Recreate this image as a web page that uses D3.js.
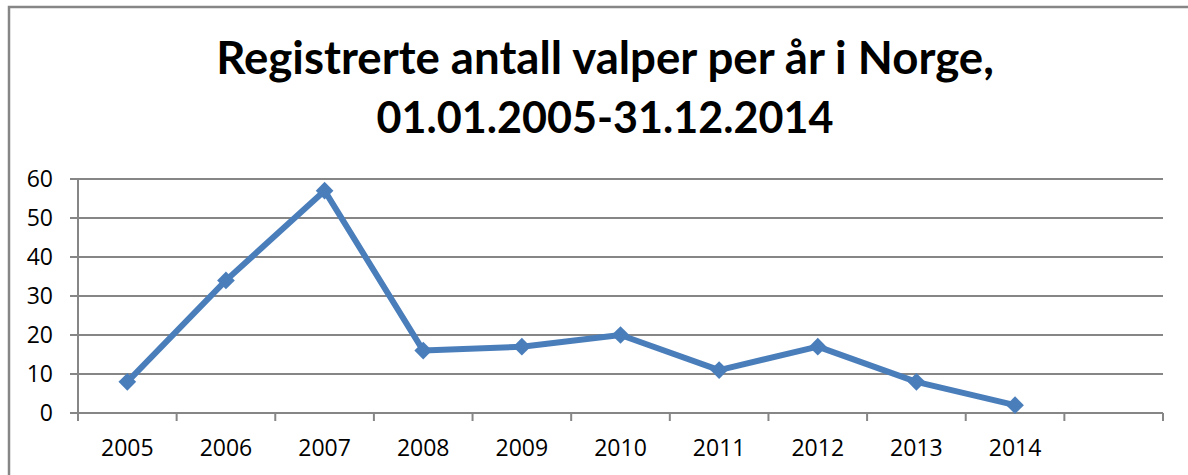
<!DOCTYPE html>
<html>
<head>
<meta charset="utf-8">
<script src="https://cdn.jsdelivr.net/npm/d3@7"></script>
<style>
  body { margin: 0; background: #fff; }
  svg { display: block; }
</style>
</head>
<body>
<div id="chart"></div>
<script>
const years = ['2005', '2006', '2007', '2008', '2009', '2010', '2011', '2012', '2013', '2014'];
const puppies = [8, 34, 57, 16, 17, 20, 11, 17, 8, 2];
const yTicks = [0, 10, 20, 30, 40, 50, 60];
const titleLines = ['Registrerte antall valper per år i Norge,', '01.01.2005-31.12.2014'];

const W = 1188, H = 475;
const margin = {top: 179, right: 25, bottom: 62, left: 78};
const gray = '#868686';
const blue = '#4a7ebb';

const svg = d3.select('#chart').append('svg').attr('width', W).attr('height', H);

// frame of the chart area (partly cropped in the picture)
svg.append('rect').attr('x', 9).attr('y', 7).attr('width', W + 20).attr('height', H + 20)
  .attr('fill', 'none').attr('stroke', gray).attr('stroke-width', 2.5);

// title, scaled to the width measured in the picture
const title = svg.append('g').style('font-family', 'Lato, "Open Sans", sans-serif').style('font-weight', 'bold');
[{y: 74, w: 777}, {y: 133, w: 457}].forEach((cfg, i) => {
  const t = title.append('text').attr('x', 605).attr('y', cfg.y).attr('text-anchor', 'middle')
    .style('font-size', '45px').attr('fill', '#000').text(titleLines[i]);
  const len = t.node().getComputedTextLength();
  t.style('font-size', (45 * cfg.w / len).toFixed(1) + 'px');
});

// an empty slot after 2014, as in the original category axis
const x = d3.scaleBand().domain([...years, '']).range([margin.left, W - margin.right]);
const y = d3.scaleLinear().domain([0, 60]).range([H - margin.bottom, margin.top]);

const g = svg.append('g').style('font-family', '"Open Sans", sans-serif').style('font-size', '23px');

// horizontal gridlines with small ticks to the left
g.append('g').selectAll('line').data(yTicks).join('line')
  .attr('x1', margin.left - 8).attr('x2', W - margin.right)
  .attr('y1', d => y(d)).attr('y2', d => y(d))
  .attr('stroke', gray).attr('stroke-width', 2);

g.append('line').attr('x1', margin.left).attr('x2', margin.left)
  .attr('y1', y(60)).attr('y2', y(0)).attr('stroke', gray).attr('stroke-width', 2);

g.append('g').selectAll('text').data(yTicks).join('text')
  .attr('x', 53).attr('y', d => y(d)).attr('dy', '0.36em').attr('text-anchor', 'end')
  .attr('fill', '#000').text(d => d);

// category ticks at band edges
const edges = [...x.domain().map(d => x(d)), W - margin.right];
g.append('g').selectAll('line').data(edges).join('line')
  .attr('x1', d => d).attr('x2', d => d)
  .attr('y1', y(0)).attr('y2', y(0) + 8)
  .attr('stroke', gray).attr('stroke-width', 2);

g.append('g').selectAll('text').data(years).join('text')
  .attr('x', d => x(d) + x.bandwidth() / 2).attr('y', 448).attr('dy', '0.36em')
  .attr('text-anchor', 'middle').attr('fill', '#000').text(d => d);

// series
const pts = years.map((yr, i) => [x(yr) + x.bandwidth() / 2, y(puppies[i])]);
g.append('path').attr('d', d3.line()(pts))
  .attr('fill', 'none').attr('stroke', blue).attr('stroke-width', 6).attr('stroke-linejoin', 'round');

g.append('g').selectAll('path').data(pts).join('path')
  .attr('d', d3.symbol(d3.symbolDiamond2, 200)())
  .attr('transform', d => `translate(${d[0]},${d[1]})`)
  .attr('fill', blue);
</script>
</body>
</html>
